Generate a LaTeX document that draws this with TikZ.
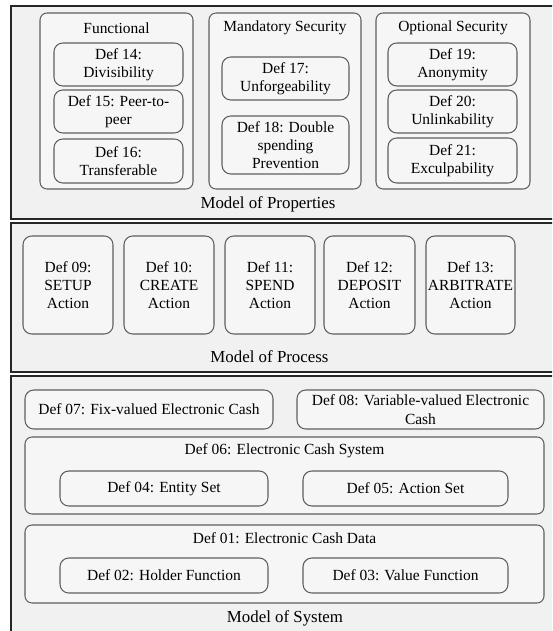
\documentclass[tikz,border=0pt]{standalone}
\usepackage{fontspec}
\setmainfont{Liberation Serif}
\usepackage{xcolor}
\definecolor{panelgray}{RGB}{241,241,241}
\definecolor{boxgray}{RGB}{246,246,246}
\definecolor{linegray}{RGB}{95,95,95}
\tikzset{
  wh/.style 2 args={minimum width=#1*0.02cm, minimum height=#2*0.02cm},
  panel/.style={draw=black!85, fill=panelgray, line width=1.2pt},
  groupbox/.style={draw=linegray, fill=boxgray, line width=0.6pt, rounded corners=4pt, inner sep=0pt},
  defbox/.style={draw=linegray, fill=boxgray, line width=0.6pt, rounded corners=5pt, inner sep=0pt,
                 align=center, font=\fontsize{8.8}{10.4}\selectfont},
  heading/.style={font=\fontsize{8.8}{10.4}\selectfont, inner sep=0pt},
  caption/.style={font=\fontsize{9.6}{11}\selectfont, inner sep=0pt}
}
\begin{document}
\begin{tikzpicture}[x=0.02cm, y=-0.02cm]
            \useasboundingbox (0,0) rectangle (552,631);
            \fill [white] (0,0) rectangle (552,631);
            \clip (0,0) rectangle (552,631);
            % model of properties
            \draw [panel] (11,6) rectangle (570,219);
            \node [groupbox, wh={153}{176}] (func) at (116.5,101) {};
            \node [groupbox, wh={152}{176}] (mand) at (285,101) {};
            \node [groupbox, wh={154}{176}] (opt) at (453,101) {};
            \node [heading] (funct) at (116.5,28) {Functional};
            \node [heading] (mandt) at (285,28) {Mandatory Security};
            \node [heading] (optt) at (453,28) {Optional Security};
            \node [defbox, wh={129}{43}] (d14) at (118.5,64.5) {Def 14:\\Divisibility};
            \node [defbox, wh={129}{43}] (d15) at (118.5,111.5) {Def 15: Peer-to-\\peer};
            \node [defbox, wh={129}{44}] (d16) at (118.5,161) {Def 16:\\Transferable};
            \node [defbox, wh={127}{43}] (d17) at (285.5,78.5) {Def 17:\\Unforgeability};
            \node [defbox, wh={127}{58}] (d18) at (285.5,145) {Def 18: Double\\spending\\Prevention};
            \node [defbox, wh={129}{43}] (d19) at (452.5,64.5) {Def 19:\\Anonymity};
            \node [defbox, wh={129}{43}] (d20) at (452.5,111.5) {Def 20:\\Unlinkability};
            \node [defbox, wh={129}{45}] (d21) at (452.5,160.5) {Def 21:\\Exculpability};
            \node [caption] (mprop) at (268,204) {Model of Properties};
            % model of process
            \draw [panel] (11,223) rectangle (570,372);
            \node [defbox, wh={90}{98}] (d09) at (68,285) {Def 09:\\SETUP\\Action};
            \node [defbox, wh={90}{98}] (d10) at (169,285) {Def 10:\\CREATE\\Action};
            \node [defbox, wh={90}{98}] (d11) at (270,285) {Def 11:\\SPEND\\Action};
            \node [defbox, wh={91}{98}] (d12) at (369.5,285) {Def 12:\\DEPOSIT\\Action};
            \node [defbox, wh={89}{98}] (d13) at (470.5,285) {Def 13:\\ARBITRATE\\Action};
            \node [caption] (mproc) at (269.5,357) {Model of Process};
            % model of system
            \draw [panel] (11,376) rectangle (570,640);
            \node [defbox, wh={248}{39}] (d07) at (149,409.5) {Def 07: Fix-valued Electronic Cash};
            \node [defbox, wh={247}{39}] (d08) at (420.5,409.5) {Def 08: Variable-valued Electronic\\Cash};
            \node [groupbox, wh={519}{77}] (d06) at (284.5,475.5) {};
            \node [heading] (d06t) at (284.5,451) {Def 06: Electronic Cash System};
            \node [defbox, wh={208}{35}] (d04) at (164,488.5) {Def 04: Entity Set};
            \node [defbox, wh={205}{35}] (d05) at (405.5,488.5) {Def 05: Action Set};
            \node [groupbox, wh={519}{78}] (d01) at (284.5,564) {};
            \node [heading] (d01t) at (284.5,538) {Def 01: Electronic Cash Data};
            \node [defbox, wh={208}{35}] (d02) at (164,575.5) {Def 02: Holder Function};
            \node [defbox, wh={205}{35}] (d03) at (405.5,575.5) {Def 03: Value Function};
            \node [caption] (msys) at (285,618) {Model of System};
        \end{tikzpicture}
\end{document}
